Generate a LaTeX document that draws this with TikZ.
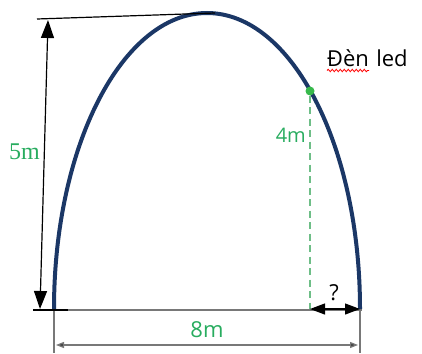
\documentclass[tikz,border=0pt]{standalone}
\usepackage{fontspec}
\setmainfont{Open Sans}
\newfontfamily\serifrm{Liberation Serif}
\usetikzlibrary{arrows.meta,decorations.pathmorphing}
\definecolor{archblue}{RGB}{27,55,102}
\definecolor{dimgreen}{RGB}{40,172,95}
\definecolor{dashgreen}{RGB}{110,190,135}
\definecolor{dotgreen}{RGB}{55,185,75}
\definecolor{baseGray}{RGB}{120,120,120}
\tikzset{
  arch/.style={draw=archblue, line width=4pt},
  dimline/.style={draw=black, line width=1.2pt},
  baseline/.style={draw=baseGray, line width=1.4pt},
  greentxt/.style={text=dimgreen, inner sep=0pt},
  blacktxt/.style={text=black, inner sep=0pt},
  heightdash/.style={draw=dashgreen, line width=1.6pt, dash pattern=on 7pt off 4.5pt},
}
\begin{document}
\begin{tikzpicture}[x=1pt,y=-1pt]
\useasboundingbox (0,0) rectangle (422,353);
% key points
\coordinate (L) at (54,309);
\coordinate (R) at (360,309);
\coordinate (T) at (207,13);
\coordinate (topA) at (37,19);
\coordinate (topB) at (215,13);
\coordinate (vA) at (48,20);
\coordinate (vB) at (40,309);
\coordinate (tk1) at (33,310);
\coordinate (tk2) at (68,310);
\coordinate (gL) at (54,310);
\coordinate (gR) at (362,310);
\coordinate (gLd) at (54,353);
\coordinate (gRt) at (360,310);
\coordinate (gRd) at (360,353);
\coordinate (bA) at (56,345);
\coordinate (bB) at (358,345);
\coordinate (F) at (310,309);
% base line and extension lines
\draw[baseline] (gL) -- (gR);
\draw[baseline] (gL) -- (gLd);
\draw[baseline] (gRt) -- (gRd);
% bottom dimension arrow
\draw[draw=baseGray, line width=1.2pt, {Triangle[length=8pt,width=6pt,fill=black!75]}-{Triangle[length=8pt,width=6pt,fill=black!75]}] (bA) -- (bB);
% arch (half ellipse)
\draw[arch] (L) arc[start angle=180, end angle=0, x radius=153, y radius=-296];
% top extension line
\draw[dimline] (topA) -- (topB);
% bottom tick
\draw[dimline] (tk1) -- (tk2);
% vertical dimension arrow
\draw[dimline, {Triangle[length=18pt,width=13pt]}-{Triangle[length=18pt,width=13pt]}] (vA) -- (vB);
% LED point
\node[circle, fill=dotgreen, inner sep=0pt, minimum size=9pt] (D) at (310,91) {};
\draw[heightdash] (D) -- (F);
% ? arrow
\draw[dimline, {Triangle[length=15pt,width=11pt]}-{Triangle[length=15pt,width=11pt]}] (F) -- (R);
% labels
\node[greentxt, anchor=base west, font=\serifrm\fontsize{24}{24}\selectfont] (h5) at (9,159) {5m};
\node[greentxt, anchor=base east, font=\fontsize{20}{20}\selectfont] (h4) at (306,142) {4m};
\node[greentxt, anchor=base, font=\fontsize{22}{22}\selectfont] (w8) at (207,337) {8m};
\node[blacktxt, anchor=base, font=\fontsize{22}{22}\selectfont] (q) at (334,300) {?};
\node[blacktxt, anchor=base west, font=\fontsize{22}{22}\selectfont] (den) at (327,66.5) {Đèn};
\node[blacktxt, anchor=base west, font=\fontsize{22}{22}\selectfont] (led) at ([xshift=7pt]den.base east) {led};
\draw[red, line width=0.8pt, decorate, decoration={snake, amplitude=1.2pt, segment length=4pt}] ([yshift=-4pt]den.base west) -- ([yshift=-4pt]den.base east);
\end{tikzpicture}
\end{document}
